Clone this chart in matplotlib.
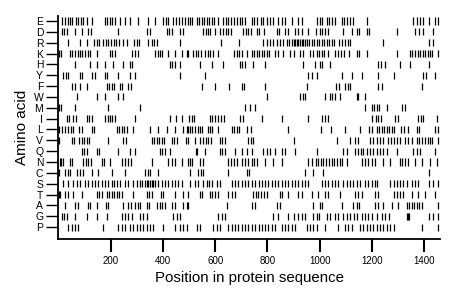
import matplotlib
matplotlib.use("Agg")
import matplotlib.pyplot as plt

plt.rcParams['font.family'] = ['Liberation Sans', 'DejaVu Sans']

amino_acids = ["E", "D", "R", "K", "H", "Y", "F", "W", "M", "I",
               "L", "V", "Q", "N", "C", "S", "T", "A", "G", "P"]

pos_E = [15, 25, 35, 44, 53, 66, 76, 86, 95, 108, 127, 178, 187, 197, 206, 216, 236, 255, 274, 306, 344, 370,
         402, 412, 421, 440, 450, 462, 472, 485, 495, 504, 513, 529, 538, 548, 558, 567, 576, 587, 597, 610,
         631, 640, 650, 661, 673, 682, 695, 704, 714, 740, 749, 759, 776, 785, 797, 810, 823, 842, 855, 868,
         893, 919, 931, 989, 1002, 1011, 1027, 1036, 1046, 1059, 1085, 1095, 1104, 1117, 1126, 1180, 1359,
         1372, 1385, 1397, 1417, 1442, 1455]
pos_D = [12, 21, 31, 63, 89, 114, 124, 229, 338, 350, 414, 423, 434, 465, 478, 555, 564, 571, 580, 599, 619,
         631, 640, 650, 661, 708, 717, 727, 737, 759, 768, 788, 836, 845, 868, 878, 906, 919, 931, 957, 985,
         1002, 1011, 1021, 1031, 1091, 1123, 1142, 1151, 1180, 1189, 1295, 1366, 1381, 1394, 1436]
pos_R = [38, 82, 108, 137, 146, 155, 172, 181, 191, 201, 211, 221, 232, 248, 261, 290, 300, 308, 344, 357,
         367, 377, 465, 622, 691, 784, 797, 810, 823, 836, 848, 861, 874, 883, 893, 900, 906, 912, 919, 925,
         931, 938, 944, 950, 959, 970, 980, 989, 998, 1008, 1018, 1027, 1036, 1046, 1056, 1074, 1085, 1097,
         1108, 1117, 1244, 1417, 1436]
pos_K = [3, 9, 44, 53, 63, 73, 82, 91, 102, 112, 121, 146, 197, 206, 216, 283, 293, 303, 370, 380, 389, 398,
         421, 446, 472, 491, 497, 516, 525, 536, 546, 561, 571, 580, 593, 612, 673, 682, 691, 702, 721, 740,
         750, 759, 768, 778, 788, 797, 806, 829, 839, 861, 887, 900, 925, 938, 963, 976, 989, 998, 1008,
         1018, 1031, 1059, 1069, 1082, 1095, 1113, 1142, 1151, 1180, 1295, 1346, 1355, 1366, 1376, 1385,
         1394, 1404, 1414, 1423, 1432, 1455]
pos_H = [63, 121, 146, 178, 210, 248, 274, 283, 427, 436, 446, 465, 542, 587, 631, 695, 704, 714, 746, 791,
         938, 983, 1002, 1011, 1040, 1225, 1235, 1251, 1308, 1346, 1417]
pos_Y = [19, 28, 38, 82, 89, 127, 140, 178, 187, 229, 274, 293, 465, 561, 957, 970, 989, 1085, 1123, 1161,
         1225, 1283, 1397, 1406, 1440]
pos_F = [53, 63, 82, 108, 185, 194, 204, 214, 236, 245, 268, 278, 548, 599, 653, 702, 712, 791, 951, 1062,
         1074, 1097, 1108, 1117, 1225, 1238, 1391]
pos_W = [70, 146, 178, 229, 248, 797, 925, 938, 944, 1021, 1040, 1049, 1059, 1078, 1142, 1148, 1174]
pos_M = [3, 8, 63, 191, 312, 714, 733, 753, 1174, 1199, 1210, 1219, 1228, 1257, 1314, 1327]
pos_I = [31, 40, 57, 66, 108, 117, 127, 178, 188, 197, 206, 216, 293, 427, 449, 472, 500, 510, 520, 580,
         589, 599, 610, 622, 635, 695, 708, 778, 855, 954, 1008, 1021, 1031, 1199, 1215, 1225, 1235, 1289,
         1302, 1378, 1388, 1397, 1450]
pos_L = [2, 15, 25, 38, 48, 57, 78, 89, 127, 137, 223, 232, 242, 252, 261, 287, 350, 382, 414, 446, 478,
         491, 495, 504, 513, 523, 533, 542, 551, 571, 580, 589, 612, 663, 673, 682, 691, 721, 737, 880, 1005,
         1044, 1097, 1155, 1189, 1199, 1219, 1228, 1238, 1248, 1257, 1266, 1276, 1286, 1312, 1325, 1337,
         1372, 1381, 1442, 1452]
pos_V = [2, 50, 61, 78, 89, 99, 108, 117, 191, 248, 257, 357, 367, 376, 385, 395, 405, 433, 444, 453, 487,
         495, 523, 542, 555, 564, 574, 584, 619, 628, 638, 727, 737, 746, 900, 1065, 1117, 1136, 1148, 1193,
         1206, 1219, 1231, 1244, 1263, 1274, 1283, 1295, 1308, 1327, 1337, 1353, 1372, 1381, 1391, 1404,
         1414, 1423, 1432, 1455]
pos_Q = [89, 99, 108, 146, 155, 229, 274, 293, 389, 398, 408, 427, 526, 531, 561, 619, 628, 638, 676, 702,
         721, 740, 785, 797, 810, 829, 855, 868, 906, 989, 1091, 1104, 1136, 1148, 1159, 1168, 1180, 1193,
         1206, 1219, 1231, 1244, 1257, 1295, 1359, 1372, 1385, 1442]
pos_N = [4, 10, 18, 44, 53, 95, 104, 114, 124, 165, 175, 197, 242, 255, 265, 278, 357, 421, 434, 446, 472,
         495, 504, 513, 542, 555, 650, 661, 673, 682, 702, 714, 727, 740, 750, 759, 791, 823, 855, 957, 970,
         985, 995, 1005, 1014, 1023, 1036, 1046, 1056, 1065, 1078, 1087, 1104, 1161, 1174, 1187, 1199,
         1212, 1244, 1270, 1308, 1317, 1327, 1340, 1366, 1391, 1423, 1450]
pos_C = [2, 25, 35, 44, 70, 82, 95, 127, 153, 204, 255, 331, 342, 350, 382, 504, 536, 546, 555, 650, 721,
         730, 944, 976, 1014, 1417]
pos_S = [18, 38, 57, 70, 82, 102, 114, 127, 140, 153, 165, 178, 191, 204, 214, 223, 236, 255, 268, 287,
         300, 312, 321, 331, 338, 344, 350, 357, 363, 370, 382, 395, 408, 421, 433, 446, 459, 472, 504, 523,
         536, 555, 567, 576, 587, 606, 619, 663, 676, 689, 702, 714, 727, 740, 753, 766, 778, 791, 804, 817,
         829, 842, 855, 868, 880, 893, 906, 919, 931, 944, 957, 1008, 1021, 1033, 1046, 1059, 1072, 1091,
         1104, 1117, 1129, 1142, 1155, 1174, 1187, 1199, 1212, 1219, 1270, 1283, 1295, 1308, 1321, 1334,
         1353, 1366, 1378, 1417, 1436, 1455]
pos_T = [2, 6, 25, 35, 57, 89, 146, 155, 165, 185, 194, 204, 214, 223, 232, 242, 287, 338, 347, 357, 393,
         402, 446, 478, 497, 542, 551, 580, 589, 599, 610, 650, 663, 676, 746, 755, 765, 776, 786, 797, 848,
         857, 880, 919, 931, 970, 995, 1021, 1031, 1078, 1136, 1148, 1161, 1212, 1225, 1283, 1295, 1308,
         1321, 1353, 1378, 1404, 1442]
pos_A = [25, 63, 73, 112, 121, 146, 181, 191, 248, 268, 278, 293, 303, 312, 338, 347, 376, 389, 398, 408,
         434, 446, 478, 491, 497, 644, 740, 753, 836, 848, 976, 1002, 1011, 1085, 1129, 1142, 1151, 1212,
         1222, 1244, 1276, 1302, 1334, 1343, 1353, 1363, 1372, 1381, 1391, 1455]
pos_G = [12, 21, 31, 63, 108, 146, 184, 242, 255, 268, 280, 312, 325, 338, 440, 453, 465, 612, 625, 638,
         823, 842, 880, 900, 919, 931, 944, 976, 989, 999, 1027, 1040, 1059, 1072, 1091, 1104, 1117, 1130,
         1142, 1161, 1174, 1187, 1200, 1219, 1238, 1251, 1264, 1334, 1338, 1342, 1417, 1436, 1455]
pos_P = [38, 50, 63, 76, 172, 229, 242, 255, 274, 287, 299, 312, 325, 338, 350, 363, 402, 446, 465, 478,
         491, 529, 542, 593, 606, 619, 651, 663, 676, 689, 702, 714, 727, 740, 753, 766, 778, 791, 804, 817,
         829, 855, 868, 880, 893, 906, 951, 963, 976, 989, 1021, 1072, 1098, 1110, 1123, 1155, 1168, 1181,
         1193, 1206, 1219, 1232, 1244, 1257, 1270, 1283, 1391, 1455]

positions = [pos_E, pos_D, pos_R, pos_K, pos_H, pos_Y, pos_F, pos_W, pos_M, pos_I,
             pos_L, pos_V, pos_Q, pos_N, pos_C, pos_S, pos_T, pos_A, pos_G, pos_P]

x_ticks = [200, 400, 600, 800, 1000, 1200, 1400]
seq_length = 1461

fig = plt.figure(figsize=(4.6, 2.99), dpi=100)
ax = fig.add_axes([58.5 / 460, 1 - 239 / 299, (440 - 58.5) / 460, (239 - 15.6) / 299])

n = len(amino_acids)
yvals = [n - 1 - i for i in range(n)]
ax.eventplot(positions, lineoffsets=yvals, linelengths=0.65, linewidths=0.9, colors='black')

ax.set_xlim(0, seq_length)
ax.set_ylim(-1.1, 19.5)
ax.set_yticks(yvals)
ax.set_yticklabels(amino_acids)
ax.set_xticks(x_ticks)
ax.set_xticklabels([str(t) for t in x_ticks])

for s in ['top', 'right']:
    ax.spines[s].set_visible(False)
for s in ['left', 'bottom']:
    ax.spines[s].set_linewidth(1.3)

ax.tick_params(axis='y', length=9, width=1.0, pad=2, labelsize=7.5)
ax.tick_params(axis='x', length=9, width=1.5, pad=3, labelsize=7)

ax.set_xlabel("Position in protein sequence", fontsize=10.8, labelpad=4)
ax.set_ylabel("Amino acid", fontsize=11, labelpad=3)

fig.savefig("out.png", dpi=100)
